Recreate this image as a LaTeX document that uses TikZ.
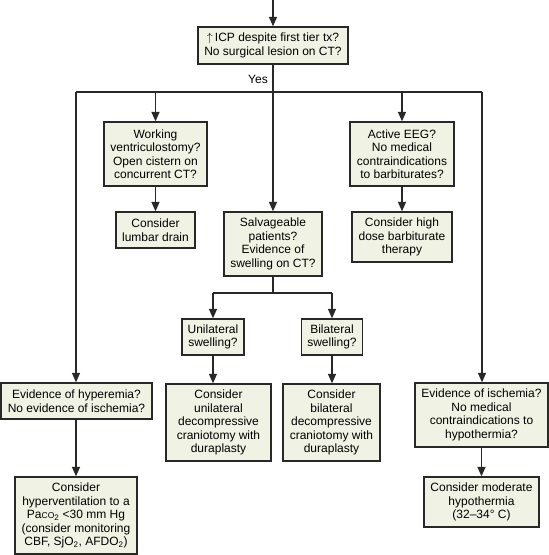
\documentclass[tikz,border=0pt]{standalone}
\usepackage{fontspec}
\setmainfont{Liberation Sans}
\usetikzlibrary{arrows.meta}
\definecolor{boxfill}{RGB}{240,243,228}
\definecolor{lnc}{RGB}{40,40,40}
\tikzset{
  fbox/.style={draw=lnc, line width=1.3pt, fill=boxfill, inner sep=0pt, align=center,
    font=\fontsize{12}{13.5}\selectfont},
  conn/.style={draw=lnc, line width=1.3pt},
  arr/.style={conn, -{Triangle[width=8pt,length=9.5pt]}},
}
\begin{document}
\begin{tikzpicture}[x=1pt,y=-1pt]
\useasboundingbox (0,0) rectangle (549,555);
\node[fbox, minimum width=150, minimum height=37] (top) at (273,45.5) {$\uparrow$\,ICP despite first tier tx?\\No surgical lesion on CT?};
\node[fbox, minimum width=103, minimum height=64] (vent) at (155.5,154) {Working\\ventriculostomy?\\Open cistern on\\concurrent CT?};
\node[fbox, minimum width=79, minimum height=36] (lumbar) at (155.5,230) {Consider\\lumbar drain};
\node[fbox, minimum width=98, minimum height=64] (salv) at (273,244) {Salvageable\\patients?\\Evidence of\\swelling on CT?};
\node[fbox, minimum width=104, minimum height=64] (eeg) at (402,154) {Active EEG?\\No medical\\contraindications\\to barbiturates?};
\node[fbox, minimum width=100, minimum height=50] (barb) at (402,237) {Consider high\\dose barbiturate\\therapy};
\node[fbox, minimum width=62, minimum height=36] (uni) at (213,337) {Unilateral\\swelling?};
\node[fbox, minimum width=61, minimum height=36] (bi) at (332,337) {Bilateral\\swelling?};
\node[fbox, minimum width=105, minimum height=77] (unidec) at (218.5,422.5) {Consider\\unilateral\\decompressive\\craniotomy with\\duraplasty};
\node[fbox, minimum width=97, minimum height=77] (bidec) at (331.5,422.5) {Consider\\bilateral\\decompressive\\craniotomy with\\duraplasty};
\node[fbox, minimum width=151, minimum height=36] (hyper) at (76.5,401) {Evidence of hyperemia?\\No evidence of ischemia?};
\node[fbox, minimum width=122, minimum height=77] (hyperv) at (76,515.5) {Consider\\hyperventilation to a\\Pa{\fontsize{8.5}{8.5}\selectfont CO}\textsubscript{2} <30 mm Hg\\(consider monitoring\\CBF, SjO\textsubscript{2}, AFDO\textsubscript{2})};
\node[fbox, minimum width=133, minimum height=64] (isch) at (481.5,415) {Evidence of ischemia?\\No medical\\contraindications to\\hypothermia?};
\node[fbox, minimum width=115, minimum height=50] (hypo) at (481.5,502) {Consider moderate\\hypothermia\\(32–34° C)};

\coordinate (start) at (273,0);
\coordinate (br) at (273,92);
\coordinate (brL) at (76,92);
\coordinate (brR) at (482,92);
\coordinate (sw) at (273,293);

\draw[arr] (start) -- (top.north);
\draw[conn] (top.south) -- (br);
\node[font=\fontsize{12}{13.5}\selectfont, anchor=east, inner sep=0pt] (yes) at (268,79) {Yes};
\draw[conn] (brL) -- (brR);
\draw[arr] (brL) -- (brL |- hyper.north);
\draw[arr] (brR) -- (brR |- isch.north);
\draw[arr] (vent.north |- br) -- (vent.north);
\draw[arr] (br) -- (salv.north);
\draw[arr] (eeg.north |- br) -- (eeg.north);
\draw[arr] (vent.south) -- (lumbar.north);
\draw[arr] (eeg.south) -- (barb.north);
\draw[conn] (salv.south) -- (sw);
\draw[conn] (uni.north |- sw) -- (bi.north |- sw);
\draw[arr] (uni.north |- sw) -- (uni.north);
\draw[arr] (bi.north |- sw) -- (bi.north);
\draw[arr] (uni.south) -- (uni.south |- unidec.north);
\draw[arr] (bi.south) -- (bi.south |- bidec.north);
\draw[arr] (hyper.south -| hyperv.north) -- (hyperv.north);
\draw[arr] (isch.south) -- (hypo.north);
\end{tikzpicture}
\end{document}
